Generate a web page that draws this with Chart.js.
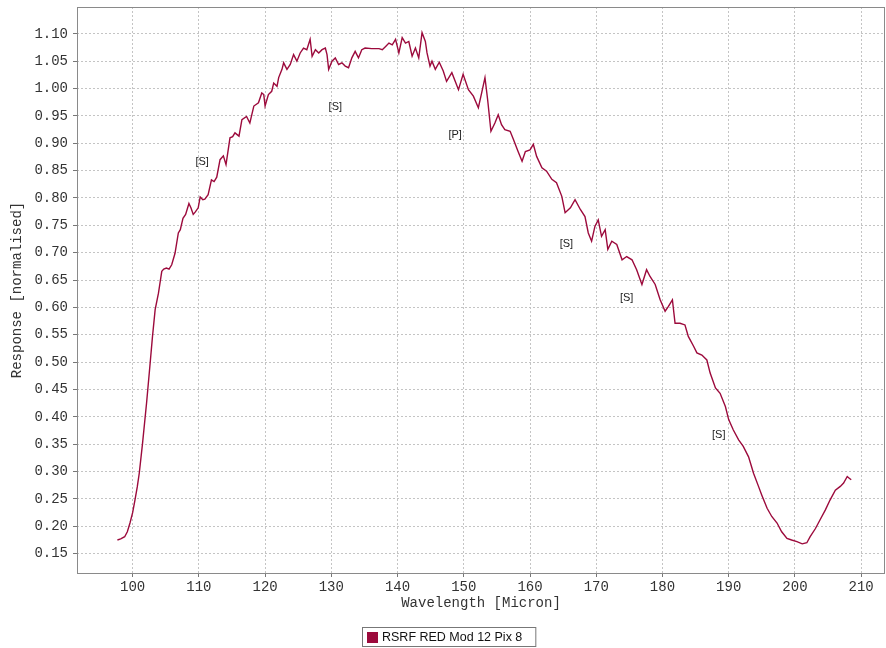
<!DOCTYPE html>
<html>
<head>
<meta charset="utf-8">
<script src="https://cdn.jsdelivr.net/npm/chart.js@4/dist/chart.umd.min.js"></script>
<style>
  body { margin: 0; background: #fff; }
  #wrap { width: 886px; height: 648px; }
</style>
</head>
<body>
<div id="wrap"><canvas id="myChart" width="886" height="648"></canvas></div>
<script>
const wavelength = [
  97.7, 98.2, 98.8, 99.2, 99.6, 100.0, 100.35, 100.7, 101.0, 101.5,
  102.1, 102.6, 103.0, 103.4, 103.9, 104.4, 104.7, 105.1, 105.5, 105.9,
  106.4, 106.9, 107.2, 107.6, 108.0, 108.5, 108.8, 109.15, 109.5, 109.9,
  110.2, 110.6, 110.9, 111.4, 111.9, 112.3, 112.7, 113.2, 113.7, 114.1,
  114.7, 115.1, 115.45, 116.06, 116.5, 117.2, 117.7, 118.3, 119.0, 119.5,
  119.8, 120.0, 120.5, 121.0, 121.3, 121.8, 122.05, 122.55, 122.8, 123.3,
  123.8, 124.3, 124.8, 125.3, 125.8, 126.3, 126.8, 127.1, 127.6, 128.1,
  128.6, 129.1, 129.35, 129.6, 130.1, 130.6, 131.1, 131.6, 132.1, 132.6,
  133.1, 133.6, 134.1, 134.6, 135.1, 136.1, 137.2, 137.7, 138.2, 138.7,
  139.2, 139.7, 140.2, 140.7, 141.2, 141.7, 142.2, 142.7, 143.2, 143.7,
  144.2, 144.45, 144.9, 145.2, 145.7, 146.3, 146.9, 147.4, 148.2, 149.2,
  149.9, 150.7, 151.45, 152.2, 152.7, 153.2, 153.6, 154.1, 154.7, 155.2,
  155.7, 156.2, 157.0, 157.5, 158.2, 158.8, 159.3, 160.0, 160.5, 161.0,
  161.8, 162.5, 163.3, 164.0, 164.8, 165.3, 166.1, 166.8, 167.6, 168.3,
  168.8, 169.3, 169.8, 170.3, 170.8, 171.35, 171.75, 172.35, 173.1, 173.9,
  174.6, 175.4, 176.1, 176.9, 177.6, 178.1, 178.9, 179.65, 180.4, 180.9,
  181.5, 181.9, 182.65, 183.4, 183.9, 184.7, 185.2, 185.95, 186.7, 187.2,
  188.0, 188.7, 189.5, 190.0, 190.7, 191.5, 192.2, 193.0, 193.75, 194.5,
  195.0, 195.8, 196.5, 197.3, 198.0, 198.8, 199.5, 200.3, 201.1, 201.8,
  202.3, 203.1, 203.8, 204.6, 205.3, 206.1, 206.85, 207.35, 207.9, 208.2,
  208.5
];
const response = [
  0.175, 0.177, 0.181, 0.190, 0.206, 0.225, 0.248, 0.272, 0.297, 0.352,
  0.425, 0.492, 0.547, 0.596, 0.626, 0.666, 0.670, 0.672, 0.670, 0.678,
  0.699, 0.736, 0.742, 0.763, 0.770, 0.790, 0.782, 0.770, 0.775, 0.782,
  0.802, 0.797, 0.798, 0.806, 0.833, 0.830, 0.838, 0.870, 0.877, 0.861,
  0.910, 0.912, 0.919, 0.913, 0.943, 0.949, 0.937, 0.968, 0.974, 0.992,
  0.989, 0.968, 0.989, 0.995, 1.010, 1.004, 1.020, 1.035, 1.047, 1.035,
  1.044, 1.062, 1.050, 1.065, 1.074, 1.071, 1.090, 1.059, 1.071, 1.065,
  1.071, 1.074, 1.062, 1.035, 1.050, 1.056, 1.044, 1.047, 1.041, 1.038,
  1.056, 1.068, 1.056, 1.071, 1.074, 1.073, 1.073, 1.071, 1.077, 1.083,
  1.080, 1.090, 1.065, 1.093, 1.083, 1.086, 1.059, 1.074, 1.056, 1.102,
  1.086, 1.065, 1.041, 1.050, 1.035, 1.048, 1.032, 1.013, 1.029, 0.998,
  1.026, 0.998, 0.986, 0.965, 0.992, 1.020, 0.980, 0.922, 0.937, 0.952,
  0.934, 0.925, 0.922, 0.907, 0.885, 0.867, 0.885, 0.888, 0.898, 0.876,
  0.855, 0.849, 0.834, 0.828, 0.803, 0.773, 0.782, 0.797, 0.779, 0.766,
  0.736, 0.721, 0.748, 0.760, 0.730, 0.742, 0.706, 0.721, 0.715, 0.687,
  0.693, 0.687, 0.669, 0.642, 0.669, 0.657, 0.642, 0.614, 0.593, 0.602,
  0.614, 0.571, 0.571, 0.568, 0.547, 0.529, 0.517, 0.513, 0.504, 0.480,
  0.453, 0.443, 0.419, 0.395, 0.376, 0.358, 0.346, 0.327, 0.297, 0.273,
  0.257, 0.233, 0.218, 0.206, 0.190, 0.178, 0.175, 0.172, 0.168, 0.170,
  0.181, 0.196, 0.212, 0.230, 0.248, 0.266, 0.273, 0.279, 0.291, 0.288,
  0.285
];

const xTicks = [100, 110, 120, 130, 140, 150, 160, 170, 180, 190, 200, 210];
const yTicks = [0.15, 0.20, 0.25, 0.30, 0.35, 0.40, 0.45, 0.50, 0.55, 0.60,
  0.65, 0.70, 0.75, 0.80, 0.85, 0.90, 0.95, 1.00, 1.05, 1.10];

// band markers written on the plot
const markerText = ["[S]", "[S]", "[P]", "[S]", "[S]", "[S]"];
const markerX = [110.5, 130.6, 148.7, 165.5, 174.6, 188.5];
const markerY = [0.866, 0.966, 0.915, 0.716, 0.618, 0.367];

const seriesName = "RSRF RED Mod 12 Pix 8";
const lineColor = "#9c0a3c";
const monoFont = "'Liberation Mono', 'DejaVu Sans Mono', monospace";

const markerPlugin = {
  id: "markers",
  afterDatasetsDraw(chart) {
    const { ctx, scales } = chart;
    ctx.save();
    ctx.font = "11px 'Liberation Sans', Arial, sans-serif";
    ctx.fillStyle = "#222";
    ctx.textAlign = "center";
    ctx.textBaseline = "middle";
    markerText.forEach((t, i) => {
      ctx.fillText(t, scales.x.getPixelForValue(markerX[i]), scales.y.getPixelForValue(markerY[i]));
    });
    ctx.restore();
  },
};

const frameAndLegend = {
  id: "frameAndLegend",
  afterDraw(chart) {
    const { ctx, chartArea } = chart;
    ctx.save();
    ctx.strokeStyle = "#8a8a8a";
    ctx.lineWidth = 1;
    ctx.strokeRect(chartArea.left + 0.5, chartArea.top + 0.5,
      chartArea.right - chartArea.left - 1, chartArea.bottom - chartArea.top);

    // legend box
    ctx.font = "12.5px 'Liberation Sans', Arial, sans-serif";
    const tw = ctx.measureText(seriesName).width;
    const boxW = tw + 33;
    const boxX = Math.round(chart.width / 2 + 6 - boxW / 2);
    const boxY = 627;
    ctx.strokeStyle = "#777";
    ctx.strokeRect(boxX + 0.5, boxY + 0.5, boxW, 19);
    ctx.fillStyle = lineColor;
    ctx.fillRect(boxX + 5, boxY + 5, 11, 11);
    ctx.fillStyle = "#111";
    ctx.textBaseline = "middle";
    ctx.fillText(seriesName, boxX + 20, boxY + 10.5);
    ctx.restore();
  },
};

const gridOpts = {
  color: "#c4c4c4",
  tickLength: 4,
  tickColor: "#777",
  tickBorderDash: [],
};

const ctx = document.getElementById("myChart").getContext("2d");
const myChart = new Chart(ctx, {
  type: "line",
  data: {
    datasets: [{
      label: seriesName,
      data: wavelength.map((w, i) => ({ x: w, y: response[i] })),
      borderColor: lineColor,
      backgroundColor: lineColor,
      borderWidth: 1.4,
      pointRadius: 0,
      tension: 0,
    }],
  },
  options: {
    responsive: false,
    animation: false,
    layout: { padding: { top: 7, right: 1, left: 0, bottom: 30 } },
    scales: {
      x: {
        type: "linear",
        min: 91.6,
        max: 213.6,
        afterBuildTicks: (scale) => { scale.ticks = xTicks.map((v) => ({ value: v })); },
        afterFit: (scale) => {
          scale.height = 45;
          scale.paddingLeft = 0;
          scale.paddingRight = 0;
        },
        grid: gridOpts,
        border: { display: false, dash: [2, 2] },
        ticks: {
          padding: 2,
          color: "#333",
          font: { family: monoFont, size: 14 },
          callback: (v) => v.toString(),
        },
        title: {
          display: true,
          text: "Wavelength [Micron]",
          color: "#333",
          font: { family: monoFont, size: 14 },
          padding: { top: 0, bottom: 6 },
        },
      },
      y: {
        type: "linear",
        min: 0.1147,
        max: 1.149,
        afterBuildTicks: (scale) => { scale.ticks = yTicks.map((v) => ({ value: v })); },
        afterFit: (scale) => {
          scale.width = 77;
          scale.paddingTop = 0;
          scale.paddingBottom = 0;
        },
        grid: gridOpts,
        border: { display: false, dash: [2, 2] },
        ticks: {
          padding: 5,
          color: "#333",
          font: { family: monoFont, size: 14 },
          callback: (v) => Number(v).toFixed(2),
        },
        title: {
          display: true,
          text: "Response [normalised]",
          color: "#333",
          font: { family: monoFont, size: 14 },
          padding: { top: 9, bottom: 0 },
        },
      },
    },
    plugins: {
      legend: { display: false },
      tooltip: { enabled: false },
    },
  },
  plugins: [markerPlugin, frameAndLegend],
});
</script>
</body>
</html>
